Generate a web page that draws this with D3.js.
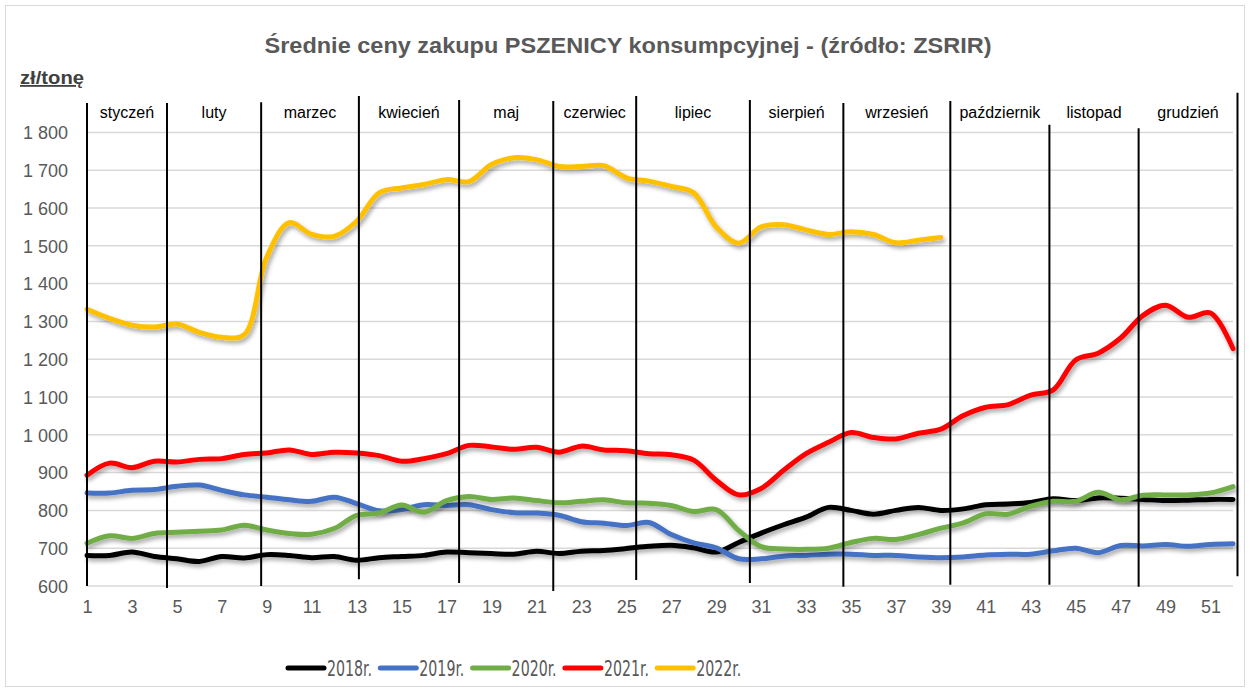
<!DOCTYPE html>
<html lang="pl">
<head>
    <meta charset="UTF-8">
    <title>Średnie ceny zakupu PSZENICY konsumpcyjnej</title>
    <script src="https://d3js.org/d3.v7.min.js"></script>
    <style>
        body { margin: 0; background: #fff; }
        text { font-family: "Liberation Sans", Arial, sans-serif; }
        .tick-label { font-size: 18px; fill: #595959; }
        .month { font-size: 16px; fill: #000; }
        .legend-label { font-size: 22px; fill: #595959; font-family: "Liberation Sans Narrow", "DejaVu Sans Condensed", sans-serif; }
    </style>
</head>
<body>
    <div id="chart"></div>

    <script>
        // weeks of the year (x categories)
        const weeks = d3.range(1, 53);

        // average prices, zł/t
        const y2018 = [681, 681, 690, 678, 672, 665, 678, 674, 683, 681,
                       675, 678, 668, 675, 678, 681, 690, 688, 686, 684,
                       692, 686, 692, 694, 699, 705, 708, 701, 690, 715,
                       740, 762, 782, 808, 800, 790, 800, 808, 800, 804,
                       815, 817, 821, 831, 826, 833, 832, 829, 826, 827,
                       829, 829];
        const y2019 = [846, 846, 853, 855, 864, 867, 853, 841, 835, 828,
                       824, 835, 818, 799, 802, 815, 813, 815, 802, 794,
                       793, 787, 770, 766, 760, 768, 736, 714, 701, 672,
                       672, 679, 681, 684, 684, 681, 681, 677, 675, 677,
                       682, 684, 684, 693, 700, 688, 707, 706, 710, 705,
                       710, 712];
        const y2020 = [713, 733, 726, 739, 742, 745, 748, 761, 748, 739,
                       737, 752, 787, 793, 814, 795, 826, 837, 829, 833,
                       826, 820, 824, 828, 820, 819, 813, 797, 802, 747,
                       704, 698, 697, 700, 715, 726, 723, 736, 753, 767,
                       791, 790, 811, 824, 824, 848, 828, 840, 841, 841,
                       846, 863];
        const y2021 = [893, 925, 913, 930, 928, 935, 937, 948, 952, 960,
                       948, 954, 952, 945, 930, 937, 950, 972, 968, 962,
                       967, 954, 970, 960, 958, 950, 947, 933, 880, 841,
                       858, 906, 950, 980, 1006, 993, 989, 1004, 1015, 1051,
                       1073, 1080, 1105, 1119, 1198, 1216, 1256, 1316, 1343, 1311,
                       1322, 1228];
        const y2022 = [1332, 1308, 1290, 1285, 1293, 1271, 1258, 1265, 1470, 1561,
                       1530, 1525, 1565, 1640, 1653, 1662, 1675, 1670, 1715, 1733,
                       1728, 1710, 1710, 1712, 1680, 1671, 1657, 1640, 1550, 1507,
                       1550, 1556, 1542, 1530, 1537, 1530, 1508, 1515, 1522];

        const seriesNames = ['2018r.', '2019r.', '2020r.', '2021r.', '2022r.'];
        const seriesColors = ['#000000', '#4472C4', '#70AD47', '#FF0000', '#FFC000'];
        const seriesValues = [y2018, y2019, y2020, y2021, y2022];

        const yTicks = [600, 700, 800, 900, 1000, 1100, 1200, 1300, 1400, 1500, 1600, 1700, 1800];
        const xTicks = weeks.filter(w => w % 2 === 1);

        const months = ['styczeń', 'luty', 'marzec', 'kwiecień', 'maj', 'czerwiec',
                        'lipiec', 'sierpień', 'wrzesień', 'październik', 'listopad', 'grudzień'];
        // hand drawn month dividers: [week, top value, bottom value]
        const monthLines = [[1, 1878, 600], [4.56, 1878, 595], [8.75, 1880, 600], [13.1, 1896, 618],
                            [17.56, 1886, 608], [21.75, 1883, 587], [25.44, 1896, 616], [30.5, 1886, 608],
                            [34.66, 1878, 598], [39.42, 1883, 603], [43.83, 1820, 603], [47.8, 1811, 598],
                            [52.2, 1905, 626]];

        const width = 1250, height = 691;
        const svg = d3.select('#chart').append('svg')
            .attr('width', width)
            .attr('height', height);

        // soft drop shadow like the office chart
        const filter = svg.append('defs').append('filter')
            .attr('id', 'shadow')
            .attr('x', '-5%').attr('y', '-20%')
            .attr('width', '110%').attr('height', '140%');
        filter.append('feDropShadow')
            .attr('dx', 2).attr('dy', 3)
            .attr('stdDeviation', 2)
            .attr('flood-color', '#000')
            .attr('flood-opacity', 0.35);

        // outer frame
        svg.append('rect')
            .attr('x', 5.5).attr('y', 5.5)
            .attr('width', 1239).attr('height', 681)
            .attr('fill', 'none')
            .attr('stroke', '#d9d9d9');

        const x = d3.scaleLinear().domain([1, 52]).range([87, 1233]);
        const y = d3.scaleLinear().domain([600, 1800]).range([586, 132.4]);

        const pl = d3.formatLocale({ decimal: ',', thousands: ' ', grouping: [3], currency: ['', ' zł'] });
        const fmt = pl.format(',');

        // gridlines
        svg.append('g')
            .selectAll('line')
            .data(yTicks)
            .enter().append('line')
            .attr('x1', x(1)).attr('x2', x(52))
            .attr('y1', d => y(d)).attr('y2', d => y(d))
            .attr('stroke', '#d9d9d9')
            .attr('stroke-width', 1.5);

        // y axis labels
        const yAxis = svg.append('g')
            .attr('transform', `translate(${x(1) - 19},0)`)
            .call(d3.axisLeft(y).tickValues(yTicks).tickFormat(fmt).tickSize(0).tickPadding(0));
        yAxis.select('.domain').remove();
        yAxis.selectAll('text')
            .attr('class', 'tick-label')
            .attr('dy', '0.35em')
            .attr('font-family', null).attr('font-size', null).attr('fill', null);

        // x axis labels
        const xAxis = svg.append('g')
            .attr('transform', `translate(0,${y(600) + 21})`)
            .call(d3.axisBottom(x).tickValues(xTicks).tickFormat(d3.format('d')).tickSize(0).tickPadding(0));
        xAxis.select('.domain').remove();
        xAxis.selectAll('text')
            .attr('class', 'tick-label')
            .attr('dy', '0.35em')
            .attr('font-family', null).attr('font-size', null).attr('fill', null);

        // series lines
        const line = d3.line()
            .x((d, i) => x(weeks[i]))
            .y(d => y(d))
            .curve(d3.curveCatmullRom.alpha(0.5));

        svg.append('g')
            .selectAll('path')
            .data(seriesValues)
            .enter().append('path')
            .attr('d', d => line(d))
            .attr('fill', 'none')
            .attr('stroke', (d, i) => seriesColors[i])
            .attr('stroke-width', 5)
            .attr('stroke-linejoin', 'round')
            .attr('stroke-linecap', 'round')
            .attr('filter', 'url(#shadow)');

        // month dividers drawn over the chart
        svg.append('g')
            .selectAll('line')
            .data(monthLines)
            .enter().append('line')
            .attr('x1', d => x(d[0])).attr('x2', d => x(d[0]))
            .attr('y1', d => y(d[1])).attr('y2', d => y(d[2]))
            .attr('stroke', '#000')
            .attr('stroke-width', 2);

        // month names, centred between the dividers
        svg.append('g')
            .selectAll('text')
            .data(months)
            .enter().append('text')
            .attr('class', 'month')
            .attr('x', (d, i) => (x(monthLines[i][0]) + x(monthLines[i + 1][0])) / 2)
            .attr('y', 118)
            .attr('text-anchor', 'middle')
            .text(d => d);

        // title
        svg.append('text')
            .attr('x', 628)
            .attr('y', 53)
            .attr('text-anchor', 'middle')
            .attr('font-size', 22)
            .attr('font-weight', 'bold')
            .attr('fill', '#595959')
            .attr('textLength', 727)
            .attr('lengthAdjust', 'spacingAndGlyphs')
            .text('Średnie ceny zakupu PSZENICY konsumpcyjnej - (źródło: ZSRIR)');

        // unit label
        svg.append('text')
            .attr('x', 20)
            .attr('y', 84)
            .attr('font-size', 18)
            .attr('font-weight', 'bold')
            .attr('fill', '#404040')
            .attr('text-decoration', 'underline')
            .attr('textLength', 64)
            .attr('lengthAdjust', 'spacingAndGlyphs')
            .text('zł/tonę');

        // legend
        const legend = svg.append('g')
            .selectAll('g')
            .data(seriesNames)
            .enter().append('g')
            .attr('transform', (d, i) => `translate(${288 + i * 92.3},668)`);
        legend.append('line')
            .attr('x1', 0).attr('x2', 36)
            .attr('stroke', (d, i) => seriesColors[i])
            .attr('stroke-width', 5)
            .attr('stroke-linecap', 'round');
        legend.append('text')
            .attr('class', 'legend-label')
            .attr('x', 39)
            .attr('dy', '0.35em')
            .attr('textLength', 45)
            .attr('lengthAdjust', 'spacingAndGlyphs')
            .text(d => d);
    </script>
</body>
</html>
